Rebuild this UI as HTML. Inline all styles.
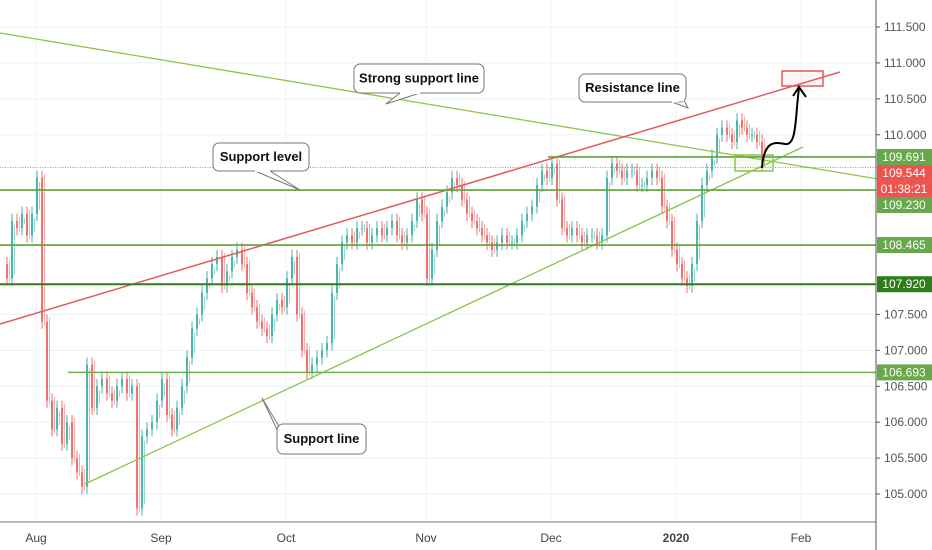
<!DOCTYPE html>
<html><head><meta charset="utf-8"><style>
body{margin:0;background:#fff;}
svg{display:block;font-family:"Liberation Sans",sans-serif;}
</style></head><body>
<svg id="c" width="932" height="550"></svg>
<script>
const monthLabels=["Aug","Sep","Oct","Nov","Dec","2020","Feb"];
const monthIndex=[7,32,57,85,110,135,160];
const priceTicks=[111.5,111.0,110.5,110.0,107.5,107.0,106.5,106.0,105.5,105.0];
const levelValues=[109.691,109.230,108.465,107.920,106.693];
const lastPrice=109.544;
const closes=[108.2,108.0,108.8,108.7,108.9,108.6,108.9,109.4,107.4,106.3,105.9,106.2,105.7,106.0,105.5,105.3,105.1,106.8,106.2,106.5,106.6,106.4,106.3,106.5,106.6,106.4,106.5,104.8,105.8,105.9,106.0,106.3,106.6,106.1,105.9,106.2,106.5,106.9,107.3,107.5,107.8,108.0,108.2,108.3,107.9,108.1,108.3,108.4,108.2,107.8,107.6,107.4,107.3,107.2,107.5,107.7,107.6,108.0,108.3,107.5,107.0,106.7,106.8,106.9,107.0,107.1,107.8,108.2,108.5,108.6,108.5,108.7,108.7,108.5,108.6,108.7,108.6,108.7,108.8,108.6,108.5,108.6,108.8,109.1,108.9,108.0,108.4,108.8,109.0,109.2,109.4,109.3,109.1,108.9,108.8,108.7,108.6,108.5,108.4,108.5,108.6,108.5,108.5,108.6,108.8,108.9,109.0,109.3,109.5,109.4,109.6,109.1,108.7,108.6,108.7,108.6,108.5,108.6,108.6,108.5,108.6,109.4,109.6,109.5,109.4,109.5,109.5,109.3,109.3,109.4,109.5,109.4,109.0,108.8,108.4,108.2,108.0,107.9,108.2,108.8,109.3,109.5,109.7,110.0,110.1,110.0,109.9,110.2,110.1,110.0,110.0,109.9,109.6];
const NS="http://www.w3.org/2000/svg";
const svg=document.getElementById('c');
const y=p=>27+(111.5-p)*71.85;
const x=i=>i*5+1;
function el(t,a,parent){const e=document.createElementNS(NS,t);for(const k in a)e.setAttribute(k,a[k]);(parent||svg).appendChild(e);return e;}
monthIndex.forEach(i=>{const g=el('line',{x1:x(i),x2:x(i),y1:0,y2:522,stroke:'#eef2f8'});

});
priceTicks.forEach(p=>{const g=el('line',{x1:0,x2:876,y1:y(p),y2:y(p),stroke:'#eef2f8'});

});
closes.forEach((c,i)=>{if(i===0)return;const o=closes[i-1];const up=c>=o;const col=up?'#26a69a':'#ef5350';
const hi=Math.max(o,c)+0.1,lo=Math.min(o,c)-0.1;
const g=el('g',{});


el('line',{x1:x(i)+1,x2:x(i)+1,y1:y(hi),y2:y(lo),stroke:col,'stroke-width':1,opacity:0.85},g);
el('rect',{x:x(i),y:y(Math.max(o,c)),width:2,height:Math.max(1,Math.abs(y(o)-y(c))),fill:col,opacity:0.7},g);
el('line',{x1:x(i)+3.5,x2:x(i)+3.5,y1:y(o)-4,y2:y(c)+4,stroke:col,'stroke-width':1,opacity:0.45},g);});
function ln(x1,y1,x2,y2,col,w,name){const l=el('line',{x1,y1,x2,y2,stroke:col,'stroke-width':w});}
ln(0,33,932,188,'#8bc34a',1.3,'strong-support-line');
ln(0,324,840,72,'#e35a5a',1.5,'resistance-line');
ln(85,484,803,147,'#8bc34a',1.3,'support-line');
const levelStart=[548,0,0,0,68];const levelCol=['#5ea03a','#5ea03a','#5ea03a','#2e7d1a','#6ab04c'];
levelValues.forEach((v,k)=>ln(levelStart[k],y(v),876,y(v),levelCol[k],k===3?2:1.6,'support-level-'+k));
const dl=el('line',{x1:0,x2:876,y1:y(lastPrice),y2:y(lastPrice),stroke:'#ef5350','stroke-dasharray':'1 1.5','stroke-width':1,opacity:0.8});

let r=el('rect',{x:782,y:71,width:41,height:15,fill:'rgba(239,83,80,0.05)',stroke:'#e35a5a','stroke-width':1.5});

r=el('rect',{x:735,y:155,width:38,height:16,fill:'rgba(139,195,74,0.08)',stroke:'#8bc34a','stroke-width':1.5});

let p=el('path',{d:'M762,168 C764,140 775,142 785,144 C797,146 795,118 799,88 M793,96 L799,87 L806,97',fill:'none',stroke:'#000','stroke-width':2});

function callout(bx,by,w,h,px,py,pts,text,name){
const g=el('g',{});
el('polygon',{points:`${pts[0]},${pts[1]} ${pts[2]},${pts[3]} ${px},${py}`,fill:'#fff',stroke:'#777'},g);
el('rect',{x:bx,y:by,width:w,height:h,rx:6,fill:'#fff',stroke:'#777'},g);
el('line',{x1:pts[0],y1:pts[1],x2:pts[2],y2:pts[3],stroke:'#fff','stroke-width':2},g);
const t=el('text',{x:bx+w/2,y:by+h/2+4,'text-anchor':'middle','font-size':13,'font-weight':'bold',fill:'#111'},g);t.textContent=text;}
callout(354,64,130,29,386,104,[400,93,420,93],'Strong support line','callout-strong-support');
callout(579,74,107,28,688,108,[672,102,684,100],'Resistance line','callout-resistance');
callout(213,143,96,28,300,190,[255,171,270,171],'Support level','callout-support-level');
callout(277,424,89,30,262,398,[280,428,282,440],'Support line','callout-support-line');
el('line',{x1:876,x2:876,y1:0,y2:550,stroke:'#555'});
el('line',{x1:0,x2:876,y1:522,y2:522,stroke:'#777'});
priceTicks.forEach(v=>{el('line',{x1:876,x2:880,y1:y(v),y2:y(v),stroke:'#555'});
const t=el('text',{x:884,y:y(v)+4,'font-size':12,fill:'#555'});
t.textContent=v.toFixed(3);});
monthLabels.forEach((m,k)=>{const t=el('text',{x:x(monthIndex[k]),y:542,'text-anchor':'middle','font-size':12,fill:'#444','font-weight':m==='2020'?'bold':'normal'});
t.textContent=m;});
// badges stacked to avoid overlap
const badges=[];
levelValues.forEach((v,k)=>badges.push({yy:y(v),col:k===3?'#2e7d1a':'#66a84a',txt:v.toFixed(3),name:'level-badge'}));
badges.push({yy:y(lastPrice)+0.5,col:'#ef5350',txt:lastPrice.toFixed(3),name:'last-price-badge'});
badges.push({yy:y(lastPrice)+0.6,col:'#ef5350',txt:'01:38:21',name:'countdown-badge'});
badges.sort((a,b)=>a.yy-b.yy);
let prev=-100;
badges.forEach(b=>{if(b.yy<prev+16)b.yy=prev+16;prev=b.yy;
const g=el('g',{});
el('rect',{x:877,y:b.yy-8,width:55,height:16,fill:b.col},g);
const t=el('text',{x:904,y:b.yy+4,'text-anchor':'middle','font-size':12,fill:'#fff'},g);t.textContent=b.txt;});
</script>
</body></html>
